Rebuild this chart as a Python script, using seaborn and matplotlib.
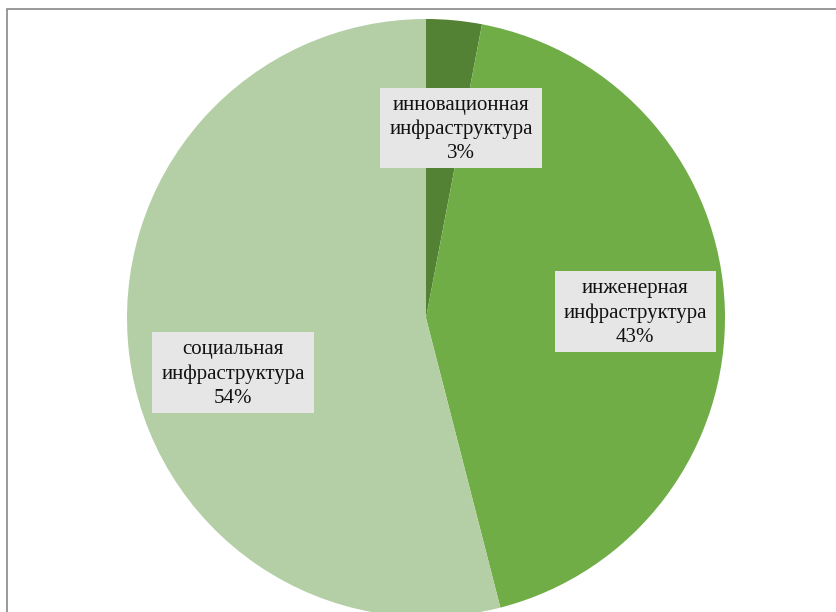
import matplotlib
matplotlib.use("Agg")
import matplotlib.pyplot as plt
import seaborn as sns

sns.set_style("white")
plt.rcParams['font.family'] = ['Liberation Serif', 'DejaVu Serif']

labels = ["инновационная\nинфраструктура", "инженерная\nинфраструктура", "социальная\nинфраструктура"]
shares = [3, 43, 54]
colors = ["#548235", "#70AD47", "#B4CFA6"]
# label box centres in axes data units (radius = 1)
label_pos = [(0.117, 0.63), (0.70, 0.017), (-0.645, -0.188)]

fig = plt.figure(figsize=(8.37, 6.12), dpi=100)
ax = fig.add_axes([127 / 837, -5 / 612, 598 / 837, 598 / 612])
wedges, _ = ax.pie(shares, colors=colors, startangle=90, counterclock=False,
                   radius=1, wedgeprops=dict(linewidth=0))
texts = []
for lab, val, (x, y) in zip(labels, shares, label_pos):
    t = ax.text(x, y, f"{lab}\n{val}%", ha="center", va="center", fontsize=15,
                linespacing=1.35, color="#111111", zorder=5)
    texts.append(t)
ax.set_xlim(-1, 1)
ax.set_ylim(-1, 1)
ax.set_aspect("equal")
ax.axis("off")

# grey boxes behind labels
fig.canvas.draw()
renderer = fig.canvas.get_renderer()
inv = ax.transData.inverted()
for t in texts:
    bb = t.get_window_extent(renderer)
    x0, y0 = inv.transform((bb.x0 - 9, bb.y0 - 5))
    x1, y1 = inv.transform((bb.x1 + 9, bb.y1 + 8))
    ax.add_patch(plt.Rectangle((x0, y0), x1 - x0, y1 - y0, facecolor="#E6E6E6",
                               edgecolor="none", zorder=4, clip_on=False))

# outer frame of the chart area
frame = plt.Rectangle((7 / 837, -0.1), 2, 1 - 9 / 612 + 0.1, transform=fig.transFigure,
                      fill=False, edgecolor="#888888", linewidth=1.2)
fig.add_artist(frame)

fig.savefig("out.png", dpi=100)
